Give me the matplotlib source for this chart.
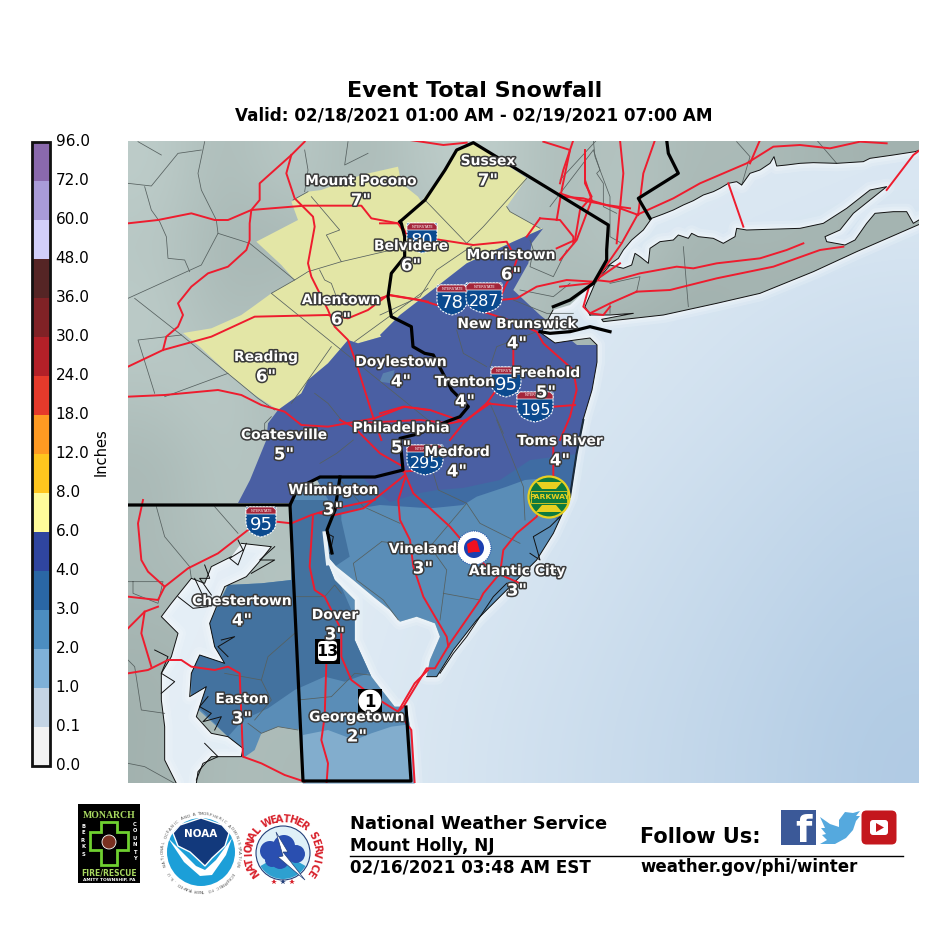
import numpy as np
import matplotlib
matplotlib.use("Agg")
import matplotlib.pyplot as plt
import matplotlib.patheffects as pe
from matplotlib.colors import ListedColormap, BoundaryNorm, LinearSegmentedColormap
from matplotlib.cm import ScalarMappable
from matplotlib.path import Path
from matplotlib.patches import PathPatch, Polygon, Circle, Rectangle, FancyBboxPatch, Wedge
from matplotlib.transforms import ScaledTranslation

# ---------- data ----------
levels = [0.0, 0.1, 1.0, 2.0, 3.0, 4.0, 6.0, 8.0, 12.0, 18.0, 24.0, 30.0, 36.0, 48.0, 60.0, 72.0, 96.0]
level_colors = ['#f2f2f2', '#c4d4e4', '#7fb1d8', '#4c8dc0', '#2a67a5', '#2f459f', '#fffb9a', '#ffc61e',
                '#ff9a22', '#e63a2b', '#b32028', '#802226', '#552525', '#d2cffa', '#a99bd8', '#8a69ad']
places = ['Sussex', 'Mount Pocono', 'Belvidere', 'Morristown', 'Allentown', 'New Brunswick', 'Doylestown', 'Reading',
          'Trenton', 'Freehold', 'Coatesville', 'Philadelphia', 'Medford', 'Toms River', 'Wilmington', 'Vineland',
          'Atlantic City', 'Chestertown', 'Dover', 'Easton', 'Georgetown']
snow_in = [7, 7, 6, 6, 6, 4, 4, 6, 4, 5, 5, 5, 4, 4, 3, 3, 3, 4, 3, 3, 2]
place_xy = [(488, 161), (361, 181), (411, 246), (511, 255), (341, 300), (517, 324), (401, 362), (266, 357),
            (465, 382), (546, 373), (284, 435), (401, 428), (457, 452), (560, 441), (333, 490), (423, 549),
            (517, 571), (242, 601), (335, 615), (242, 699), (357, 717)]
interstates = ['80', '78', '287', '95', '195', '295', '95']
interstate_xy = [(422, 238), (452, 300), (484, 298), (506, 382), (535, 407), (425, 460), (261, 522)]

def z4(p): return [(128 + x / 3, 500 + y / 3) for x, y in p]
def z5(p): return [(128 + x / 3, 140 + y / 3) for x, y in p]
def z6(p): return [(560 + x / 3, 140 + y / 3) for x, y in p]
def z7(p): return [(320 + x / 3, 420 + y / 3) for x, y in p]
def z3(p): return [(380 + x / 3, 200 + y / 3) for x, y in p]
def z8(p): return [(400 + x / 3, 140 + y / 3) for x, y in p]

ct_coast = z6([(1080, 30), (1065, 35), (1000, 45), (930, 55), (910, 65), (830, 70), (760, 68), (720, 70), (680, 75),
               (650, 78), (642, 50), (630, 70), (600, 90), (570, 100), (545, 135), (530, 125), (505, 130), (480, 145),
               (460, 155), (430, 165), (400, 182), (370, 195), (340, 210), (310, 222), (275, 235), (250, 270),
               (215, 300), (190, 330), (175, 355), (140, 380), (105, 425)])
nj_upper = [(589, 287), (570, 305), (553, 310), (545, 325), (541, 333), (555, 343), (575, 340), (590, 338), (597, 345),
            (597, 362), (592, 390), (583, 420)]
nj_coast = z7([(790, 0), (770, 100), (750, 230), (700, 340), (650, 420), (600, 470), (540, 530), (470, 600), (400, 690),
               (350, 770), (320, 770)])
nj_bay = z7([(330, 720), (360, 650), (345, 610), (290, 590), (240, 605), (210, 570), (160, 530), (100, 480), (50, 440),
             (15, 400), (10, 370)])
de_coast = z4([(590, 120), (600, 190), (620, 240), (680, 300), (680, 420), (730, 530), (800, 620), (835, 620), (850, 700),
               (860, 850)])
md_east = z4([(205, 850), (210, 815), (250, 770), (340, 770), (345, 745), (300, 710), (250, 700), (205, 650), (235, 560),
              (185, 590), (190, 520), (215, 465), (290, 490), (260, 440), (245, 370), (290, 260), (355, 230), (390, 190),
              (430, 140), (340, 130)])
md_west = z4([(310, 170), (250, 200), (230, 250), (190, 235), (130, 310), (100, 350), (150, 400), (130, 470), (100, 520),
              (100, 600), (110, 680), (110, 780), (145, 850)])
li_outline = z6([(90, 525), (75, 500), (105, 430), (150, 375), (190, 385), (215, 375), (225, 340), (240, 350), (265, 370),
                 (270, 325), (300, 305), (340, 300), (355, 285), (385, 295), (395, 280), (415, 290), (460, 295), (490, 310),
                 (525, 290), (530, 265), (560, 270), (720, 265), (790, 250), (860, 205), (930, 150), (980, 140), (930, 180),
                 (880, 220), (840, 270), (795, 290), (800, 305), (855, 315), (885, 300), (920, 250), (945, 220), (1000, 215),
                 (1040, 215), (1060, 250), (1085, 235), (1085, 250), (890, 335), (760, 395), (600, 460), (470, 490),
                 (310, 525), (130, 545), (125, 538), (220, 520), (150, 525)])

snow_yellow = [(183, 333)] + z5([(250, 565), (340, 525), (375, 500), (430, 460), (500, 420), (460, 375), (385, 305), (510, 240),
                                 (490, 185), (540, 155), (580, 150), (700, 105), (810, 80), (820, 130), (870, 170), (880, 185)]) + \
              z8([(135, 90), (170, 30), (220, 8), (380, 115), (320, 200), (330, 215), (420, 265)]) + \
              z3([(490, 85), (400, 125), (260, 190), (170, 260), (60, 345), (0, 405)]) + \
              z5([(760, 590), (690, 610), (660, 600), (600, 670), (540, 720), (520, 760), (450, 810), (380, 765), (300, 700), (215, 620)])
snow_dark = z3([(490, 85), (400, 125), (260, 190), (170, 260), (60, 345), (0, 405)]) + \
            z5([(760, 590), (690, 610), (660, 600), (600, 670), (540, 720), (520, 760), (450, 810), (420, 850), (415, 900)]) + \
            [(250, 480), (238, 503), (290, 503), (296, 488), (320, 476), (363, 478), (377, 492), (390, 502), (420, 493),
             (437, 490), (463, 488), (500, 480), (530, 460), (585, 453), (620, 400), (615, 345), (577, 345), (540, 315)] + \
            z3([(400, 270), (445, 190), (455, 130)])
snow_34_nj = z7([(-20, 160), (50, 285), (120, 265), (180, 255), (330, 265), (430, 255), (470, 230), (560, 200), (615, 180),
                 (670, 175), (800, 90), (850, 0), (-20, 0)])
snow_34_strip = z7([(640, 115), (830, 90), (830, 200), (720, 300), (680, 285), (735, 200), (700, 175), (630, 170)])
snow_34_md = z4([(190, 490), (240, 380), (300, 255), (400, 250), (490, 240), (490, 0), (640, 0), (640, 60), (665, 170), (620, 200),
                 (640, 260), (700, 400), (760, 560), (720, 520), (650, 545), (590, 530), (500, 570), (420, 625), (345, 660),
                 (300, 710), (190, 600)])
snow_23 = z4([(185, 490), (240, 370), (300, 255), (400, 250), (490, 240), (490, -30)]) + [(700, 470), (700, 800), (415, 800)] + \
          z4([(860, 870), (525, 870), (520, 690), (450, 680), (400, 700), (380, 750), (345, 775), (300, 710), (190, 610)])
snow_12 = z4([(525, 705), (600, 690), (680, 720), (730, 700), (790, 680), (870, 670), (870, 860), (525, 860)])
snow_spot = z5([(755, 725), (765, 700), (800, 690), (790, 730)])

state_lines = [
    [(128, 505), (290, 505), (303, 781), (411, 781), (406, 707)],
    z6([(320, 0), (325, 40), (355, 100), (235, 175), (270, 235)]),
    z8([(0, 245), (75, 180), (135, 90), (170, 30), (220, 8), (625, 255), (620, 330)]) + z3([(680, 180), (640, 250), (570, 300), (520, 320)]),
    z8([(0, 245)]) + z5([(820, 250), (830, 290), (830, 350), (790, 400), (780, 470), (790, 530), (850, 560), (855, 620), (890, 640)]) +
    z3([(160, 465), (215, 570), (265, 620), (240, 650), (200, 665), (120, 700), (60, 715)]) + [(403, 470), (375, 477), (340, 477), (320, 477), (298, 488), (290, 505)],
    [(340, 477), (335, 510), (327, 530), (332, 553)],
    z3([(480, 395), (510, 400), (570, 395), (630, 380), (690, 395)]),
]
roads = [
    z5([(0, 250), (90, 240), (190, 220), (260, 240), (300, 240), (370, 210), (430, 205), (530, 197), (700, 197), (730, 235), (810, 250), (830, 280)]),
    z3([(0, 70), (60, 70), (85, 110), (170, 118), (280, 135), (380, 125), (410, 180), (400, 210), (375, 260), (360, 295)]),
    z5([(530, 5), (490, 45), (395, 130), (395, 180), (370, 210), (365, 250), (365, 300), (355, 330), (300, 380), (240, 400), (190, 440), (150, 490), (165, 525), (150, 560), (115, 590), (105, 630)]),
    z5([(490, 45), (475, 100), (500, 175), (555, 230), (560, 260), (540, 370), (550, 410), (600, 510), (620, 560), (660, 600), (685, 670), (735, 830), (760, 900)]),
    z5([(0, 680), (105, 630), (250, 590), (380, 530), (600, 525), (660, 535), (720, 510), (780, 465), (900, 485)]),
    z5([(0, 770), (110, 765), (270, 750), (340, 765), (400, 795), (470, 815), (520, 855), (600, 860), (740, 835), (830, 800), (900, 810)]),
    z3([(0, 295), (30, 285), (120, 300), (170, 315)]),
    z3([(360, 300), (410, 295), (470, 260), (560, 240), (640, 245), (720, 190)]),
    z3([(310, 335), (400, 365), (470, 395), (490, 430), (580, 510), (590, 570), (570, 650), (540, 720)]),
    z3([(400, 440), (400, 500), (320, 610), (250, 670), (210, 720)]),
    z3([(320, 610), (410, 620), (520, 620), (585, 615)]),
    z3([(0, 640), (70, 620), (150, 630), (250, 665), (330, 610)]),
    z7([(250, 150), (280, 220), (330, 265), (390, 320), (450, 390), (500, 440), (555, 470), (600, 490)]),
    z7([(700, 50), (700, 170), (650, 290), (590, 340), (550, 390), (540, 460), (490, 520), (480, 540), (390, 670), (345, 745), (320, 745), (250, 860), (240, 870)]),
    z7([(255, 175), (235, 240), (240, 300), (270, 360), (280, 440), (310, 530), (380, 650), (385, 680)]),
    z7([(255, 165), (130, 265), (45, 285), (0, 280)]),
    z7([(250, 140), (180, 100), (130, 50), (100, 20), (60, 0)]),
    z7([(250, 155), (300, 150)]),
    z7([(440, 0), (390, 10), (300, 0), (100, 10)]),
    z4([(0, 520), (60, 510), (120, 480), (160, 480), (190, 500), (260, 510), (300, 500), (335, 520), (345, 770), (400, 790), (470, 825), (530, 845)]),
    z4([(0, 290), (90, 300), (110, 260), (180, 205), (270, 160), (360, 90)]),
    z4([(45, 0), (30, 70), (40, 180), (60, 215), (110, 260)]),
    z4([(445, 65), (490, 70), (550, 45), (600, 30), (740, 0)]),
    z4([(555, 45), (545, 200), (560, 270), (590, 290), (640, 390), (640, 470), (670, 540), (730, 585), (810, 635), (850, 690), (860, 850)]),
    z4([(595, 490), (590, 650), (580, 720), (600, 790), (595, 860)]),
    z4([(0, 385), (50, 335), (90, 320)]),
    z4([(50, 335), (40, 400), (70, 500)]),
    z4([(900, 510), (860, 550), (810, 635)]),
    z6([(285, 0), (250, 100), (235, 220), (185, 310), (105, 425), (90, 430), (0, 440)]),
    z6([(0, 160), (60, 180), (115, 190), (180, 205), (235, 225)]),
    z6([(180, 0), (190, 100), (180, 205), (170, 310)]),
    z6([(75, 30), (75, 120), (95, 180), (50, 300), (0, 360)]),
    z6([(40, 0), (10, 90), (0, 130)]),
    z6([(230, 225), (340, 175), (420, 130), (490, 100), (560, 70), (640, 20), (720, 15), (810, 25), (900, 5), (980, 10)]),
    z6([(600, 0), (570, 70)]),
    z6([(105, 420), (150, 425), (240, 400), (350, 380), (400, 385), (470, 370), (600, 355), (680, 330), (730, 310)]),
    z6([(230, 455), (330, 450), (470, 415), (640, 380), (780, 330), (850, 320)]),
    z6([(90, 520), (150, 490), (230, 455)]),
    z6([(90, 430), (70, 500), (90, 520), (130, 525), (150, 500)]),
    z6([(505, 130), (550, 260)]),
    z6([(980, 150), (1060, 45), (1080, 30)]),
    z8([(30, 0), (130, 15), (200, 8)]),
    z8([(430, 5), (510, 30), (485, 150), (470, 240)]),
    z8([(555, 35), (555, 130), (575, 170), (540, 210), (525, 300), (470, 325)]),
    z8([(420, 235), (480, 240), (520, 290), (520, 310)]),
    z8([(380, 290), (420, 235)]),
    z8([(490, 170), (550, 175), (620, 195), (690, 205)]),
]
counties = [
    z5([(0, 475), (220, 375), (270, 280), (265, 240), (220, 150), (210, 100), (230, 5)]),
    z5([(270, 280), (365, 310), (500, 420), (430, 460), (640, 630), (900, 840)]),
    z5([(20, 475), (160, 585), (390, 775), (440, 810)]),
    z5([(0, 130), (70, 138), (150, 40), (220, 30)]),
    z5([(50, 140), (70, 210), (95, 245), (115, 290), (120, 355), (170, 360), (185, 395)]),
    z5([(30, 5), (100, 45)]),
    z5([(160, 585), (30, 600), (80, 760)]),
    z5([(300, 700), (110, 770)]),
    z5([(500, 420), (540, 395), (640, 365), (790, 330)]),
    z5([(550, 170), (635, 270), (595, 285), (640, 365)]),
    z5([(495, 180), (540, 155)]),
    z5([(680, 605), (790, 525), (900, 445)]),
    z5([(610, 620), (540, 720), (490, 790)]),
    z5([(430, 830), (410, 850), (410, 900)]),
    z5([(575, 390), (590, 420), (610, 430), (625, 470)]),
    z5([(530, 30), (540, 90), (530, 155)]),
    z5([(660, 5), (650, 75), (720, 40)]),
    z5([(560, 760), (600, 790), (640, 840)]),
    z8([(75, 180), (200, 310), (250, 260), (380, 115)]),
    z8([(320, 200), (330, 215), (420, 265)]),
    z8([(450, 200), (580, 30)]),
    z8([(580, 30), (600, 90), (590, 100), (610, 130), (610, 200), (650, 220)]),
    z3([(0, 345), (120, 290), (170, 210), (280, 135)]),
    z3([(230, 390), (250, 460), (320, 500)]),
    z3([(400, 300), (500, 340), (580, 340)]),
    z3([(330, 500), (350, 440), (470, 395)]),
    z3([(330, 610), (370, 700)]),
    z3([(450, 120), (460, 150), (450, 200), (520, 230), (560, 150)]),
    z3([(420, 270), (520, 290), (570, 250)]),
    z7([(530, 0), (610, 200), (615, 300)]),
    z7([(440, 250), (330, 380)]),
    z7([(340, 160), (355, 210), (440, 250), (480, 310), (600, 370)]),
    z7([(185, 365), (100, 430), (110, 480), (190, 540), (235, 600)]),
    z7([(185, 365), (330, 380), (380, 450), (360, 600)]),
    z7([(370, 520), (480, 540)]),
    z7([(60, 180), (130, 260), (240, 310)]),
    z7([(100, 60), (50, 100), (0, 130)]),
    z4([(85, 20), (110, 110), (185, 200), (190, 235)]),
    z4([(260, 20), (330, 100)]),
    z4([(500, 290), (590, 290), (620, 255), (640, 280)]),
    z4([(500, 400), (420, 470), (400, 540), (430, 600), (380, 660)]),
    z4([(290, 520), (400, 540)]),
    z4([(510, 600), (610, 590), (680, 520), (725, 525)]),
    z4([(360, 670), (400, 700), (450, 680), (510, 690)]),
    z4([(0, 245), (105, 245), (90, 310), (15, 280), (15, 245)]),
    z4([(0, 480), (20, 500), (40, 630), (110, 640)]),
    z4([(0, 790), (50, 800), (140, 850)]),
    z6([(100, 0), (105, 50), (150, 170), (150, 290), (185, 310)]),
    z6([(110, 0), (0, 120)]),
    z6([(370, 320), (385, 500)]),
    z6([(530, 5), (570, 50), (545, 135)]),
    z6([(770, 0), (830, 70)]),
    z6([(150, 430), (240, 410), (230, 455), (150, 490), (150, 520)]),
]
inlets = [
    z4([(230, 195), (245, 235), (215, 235), (250, 285)]), z4([(200, 235), (240, 320), (195, 325), (150, 290)]),
    z4([(330, 120), (345, 150), (305, 175), (330, 195), (355, 130)]), z4([(440, 140), (395, 180), (440, 180), (370, 220)]),
    z4([(280, 420), (320, 410), (270, 440), (300, 470)]), z4([(240, 590), (215, 620), (250, 640), (225, 665), (280, 650), (260, 690)]),
    z4([(230, 730), (270, 770), (225, 790), (205, 840)]), z4([(80, 450), (120, 470), (100, 520), (140, 545), (100, 580)]),
    z7([(360, 760), (400, 700), (440, 650), (480, 590), (520, 530), (560, 490)]), z7([(630, 400), (660, 420), (640, 350), (690, 320), (720, 290)]),
    z7([(20, 340), (40, 350), (30, 400)]),
]
# hillshade tones typed on a coarse grid over the map frame (0 dark, 1 light)
terrain = [
    [.72, .42, .72, .38, .66, .78, .45, .60, .42, .45, .35, .30],
    [.62, .38, .30, .70, .38, .72, .42, .68, .32, .35, .35, .35],
    [.72, .42, .66, .34, .66, .60, .40, .30, .28, .35, .30, .30],
    [.58, .72, .34, .62, .38, .55, .48, .28, .28, .25, .25, .28],
    [.40, .62, .52, .72, .50, .50, .58, .42, .42, .42, .42, .42],
    [.42, .64, .48, .50, .58, .62, .60, .60, .60, .60, .60, .60],
    [.40, .42, .66, .60, .55, .60, .60, .60, .60, .60, .60, .60],
    [.30, .40, .50, .50, .52, .50, .60, .60, .60, .60, .60, .60],
    [.30, .48, .42, .42, .42, .50, .60, .60, .60, .60, .60, .60],
]
# sea tones on a coarse grid (0 deep, 1 pale)
sea = [
    [.90, .90, .90, .88, .86, .80, .78, .76, .74],
    [.92, .90, .88, .85, .80, .74, .68, .62, .56],
    [.92, .90, .88, .82, .75, .68, .60, .50, .42],
    [.92, .90, .85, .78, .70, .60, .48, .38, .28],
    [.92, .88, .82, .74, .64, .52, .40, .28, .16],
    [.90, .86, .80, .70, .58, .46, .34, .20, .05],
]

# ---------- figure ----------
plt.rcParams['font.family'] = ['DejaVu Sans']
fig = plt.figure(figsize=(9.43, 9.43), dpi=100, facecolor='white')
ax = fig.add_axes([0, 0, 1, 1])
ax.set_xlim(0, 943)
ax.set_ylim(943, 0)
ax.axis('off')
F = (128, 919, 783, 141)
frame = Rectangle((128, 141), 791, 642, transform=ax.transData)

sea_cmap = LinearSegmentedColormap.from_list('sea', ['#aec9e3', '#eaf2f8'])
ax.imshow(sea, cmap=sea_cmap, vmin=0, vmax=1, extent=F, interpolation='bicubic', aspect='auto', zorder=1)

land_main = ct_coast + [(595, 283)] + nj_upper + nj_coast + nj_bay + de_coast + md_east + md_west + [(128, 783), (128, 141), (919, 141)]
def closed(pts):
    a = np.array(pts + [pts[0]], float)
    c = [Path.MOVETO] + [Path.LINETO] * (len(pts) - 1) + [Path.CLOSEPOLY]
    return Path(a, c)
land_path = Path.make_compound_path(closed(land_main), closed(li_outline))

for lw, a in [(16, .2), (10, .25), (5, .35)]:
    g = PathPatch(land_path, fc='none', ec='#f6fafc', lw=lw * .72, alpha=a, zorder=2, joinstyle='round')
    ax.add_patch(g)
    g.set_clip_path(frame)

land_patch = PathPatch(land_path, fc='none', ec='none', transform=ax.transData, zorder=3)
ax.add_patch(land_patch)
land_cmap = LinearSegmentedColormap.from_list('land', ['#8f9f9c', '#d0dfdc'])
im = ax.imshow(terrain, cmap=land_cmap, vmin=0, vmax=1, extent=F, interpolation='bicubic', aspect='auto', zorder=3)
im.set_clip_path(land_patch)

for pts, col, zo in [(snow_23, '#5a8db7', 4.0), (snow_12, '#82adcd', 4.1), (snow_34_md, '#43729f', 4.2),
                     (snow_34_nj, '#3f6ca3', 4.3), (snow_34_strip, '#3f6ca3', 4.3), (snow_yellow, '#e3e6a6', 4.4),
                     (snow_dark, '#4a5fa3', 4.5), (snow_spot, '#5a80ad', 4.6)]:
    p = Polygon(pts, closed=True, fc=col, ec='none', zorder=zo)
    ax.add_patch(p)
    p.set_clip_path(land_patch)

def polyline(pts, **kw):
    a = np.array(pts, float)
    l, = ax.plot(a[:, 0], a[:, 1], solid_joinstyle='round', **kw)
    l.set_clip_path(frame)

for c in counties:
    polyline(c, color='#56605f', lw=0.55, zorder=5)
polyline(z4([(590, 100), (600, 190)]), color='#e8f0f5', lw=3, zorder=5)
for c in [ct_coast, li_outline + li_outline[:1], nj_upper[2:], nj_coast, md_east, md_west] + inlets:
    polyline(c, color='#111111', lw=0.7, zorder=5.5)
polyline(z7([(790, 0), (770, 100), (750, 230)]), color='#1a2a3a', lw=1.5, zorder=5.5)
for c in roads:
    polyline(c, color='#ee1c2e', lw=1.4, zorder=6)
for c in state_lines:
    polyline(c, color='#000000', lw=2.3, zorder=7)

# shields
def interstate(x, y, num):
    w = 15 if len(num) == 2 else 18
    h = 15
    sx = np.array([-1, 1, 1, .93, .7, .35, 0, -.35, -.7, -.93, -1]) * w + x
    sy = np.array([-h, -h, 1, 6, 10.5, 13.5, h, 13.5, 10.5, 6, 1]) + y
    ax.add_patch(Polygon(list(zip(sx, sy)), closed=True, fc='#0b4a8f', ec='white', lw=0.8, ls=(0, (2, 1)), zorder=8))
    ax.add_patch(Polygon([(x - w, y - h + 3), (x - w + 3, y - h), (x + w - 3, y - h), (x + w, y - h + 3), (x + w, y - h + 7), (x - w, y - h + 7)],
                         closed=True, fc='#a4253a', ec='white', lw=0.5, zorder=8.1))
    ax.text(x, y - h + 3.5, 'INTERSTATE', color='white', fontsize=2.6, ha='center', va='center', zorder=8.2)
    ax.text(x, y + 3.5, num, color='white', fontsize=13 if len(num) == 2 else 11.5, ha='center', va='center', zorder=8.2)

for n, (sx_, sy_) in zip(interstates, interstate_xy):
    interstate(sx_, sy_, n)

ax.add_patch(Rectangle((315, 639), 25, 25, fc='black', zorder=8))
ax.add_patch(FancyBboxPatch((319, 642), 17, 18, boxstyle='round,pad=1,rounding_size=4', fc='white', ec='none', zorder=8.1))
ax.text(327.5, 652, '13', fontsize=11.5, fontweight='bold', ha='center', va='center', color='black', zorder=8.2)
ax.add_patch(Rectangle((358, 689), 24, 24, fc='black', zorder=8))
ax.add_patch(Circle((370, 701), 11.5, fc='white', ec='none', zorder=8.1))
ax.text(370, 702, '1', fontsize=12, fontweight='bold', ha='center', va='center', color='black', zorder=8.2)

ax.add_patch(Circle((549, 497), 20.5, fc='#0d7a3e', ec='#e8d020', lw=1.6, zorder=8))
ax.add_patch(Polygon([(531, 491), (567, 491), (567, 503), (531, 503)], fc='#0d7a3e', ec='#e8d020', lw=0.6, zorder=8.1))
ax.add_patch(Polygon([(536, 482), (562, 482), (556, 489), (542, 489)], fc='#e8d020', zorder=8.1))
ax.add_patch(Polygon([(542, 505), (556, 505), (562, 512), (536, 512)], fc='#e8d020', zorder=8.1))
ax.text(549, 497, 'PARKWAY', color='#e8d020', fontsize=5.4, fontweight='bold', ha='center', va='center', zorder=8.2)

ax.add_patch(Circle((474, 548), 17, fc='white', ec='#1c4fa8', lw=0.8, ls=(0, (1, 1)), zorder=8))
ax.add_patch(Circle((474, 548), 10, fc='#1c3fb0', ec='none', zorder=8.1))
ax.add_patch(Polygon([(467, 544), (474, 540), (477, 541), (480, 552), (474, 552), (468, 553)], fc='#f01020', zorder=8.2))

# labels
halo = [pe.withStroke(linewidth=2.2, foreground='#3a3a3a')]
for name, val, (lx, ly) in zip(places, snow_in, place_xy):
    ax.text(lx, ly, name, color='white', fontsize=10, fontweight='bold', ha='center', va='center', zorder=9, path_effects=halo)
    ax.text(lx, ly + 19.5, f'{val}"', color='white', fontsize=12, fontweight='bold', ha='center', va='center', zorder=9, path_effects=halo)

ax.text(475, 91, 'Event Total Snowfall', fontsize=16, fontweight='bold', ha='center', va='center')
ax.text(474, 115.5, 'Valid: 02/18/2021 01:00 AM - 02/19/2021 07:00 AM', fontsize=12.05, fontweight='bold', ha='center', va='center')
ax.text(101, 452, 'Inches', fontsize=10.5, rotation=90, ha='center', va='center')

# colour bar
cax = fig.add_axes([31.5 / 943, 1 - 766 / 943, 18.5 / 943, 624 / 943])
norm = BoundaryNorm(levels, len(level_colors))
cb = fig.colorbar(ScalarMappable(norm=norm, cmap=ListedColormap(level_colors)), cax=cax, spacing='uniform', ticks=levels)
cb.ax.set_yticklabels([f'{v:.1f}' for v in levels], fontsize=11)
cb.ax.tick_params(length=0, pad=4)
shift = ScaledTranslation(0, 2 / 100, fig.dpi_scale_trans)
for t in cb.ax.get_yticklabels():
    t.set_transform(t.get_transform() + shift)
cb.outline.set_linewidth(2)
cb.outline.set_edgecolor('#111111')

# footer
ax.text(350, 824, 'National Weather Service', fontsize=12.9, fontweight='bold', ha='left', va='center')
ax.text(350, 846, 'Mount Holly, NJ', fontsize=12.05, fontweight='bold', ha='left', va='center')
ax.text(350, 867, '02/16/2021 03:48 AM EST', fontsize=12.05, fontweight='bold', ha='left', va='center')
ax.text(640, 837, 'Follow Us:', fontsize=15, fontweight='bold', ha='left', va='center')
ax.text(640, 867, 'weather.gov/phi/winter', fontsize=12, fontweight='bold', ha='left', va='center')
ax.plot([350, 903], [856, 856], color='black', lw=1)

# logos
ax.add_patch(Rectangle((78, 804), 62, 79, fc='black'))
ax.text(109, 815, 'MONARCH', color='#a8d860', fontsize=7, fontweight='bold', family='Liberation Serif', ha='center', va='center')
ax.add_patch(Polygon([(101, 822), (117, 822), (117, 832), (128, 832), (128, 850), (117, 850), (117, 865), (101, 865), (101, 850), (90, 850), (90, 832), (101, 832)],
                     fc='black', ec='#6fd030', lw=2))
ax.add_patch(Circle((109, 842), 7, fc='#7a3020', ec='white', lw=0.6))
ax.text(109, 873, 'FIRE/RESCUE', color='#a8d860', fontsize=5.5, fontweight='bold', ha='center', va='center')
ax.text(109, 880, 'AMITY TOWNSHIP, PA', color='white', fontsize=3.2, fontweight='bold', ha='center', va='center')
for i, ch in enumerate('BERKS'):
    ax.text(83, 826 + i * 7, ch, color='white', fontsize=3.8, fontweight='bold', ha='center', va='center')
for i, ch in enumerate('COUNTY'):
    ax.text(135, 824 + i * 7, ch, color='white', fontsize=3.8, fontweight='bold', ha='center', va='center')

def ring(text, cx, cy, r, a0, a1, **kw):
    for ch, a in zip(text, np.linspace(a0, a1, len(text))):
        t = np.deg2rad(a)
        ax.text(cx + r * np.cos(t), cy - r * np.sin(t), ch, rotation=a - 90, rotation_mode='anchor', ha='center', va='center', **kw)

ax.add_patch(Circle((201, 852), 34, fc='#1c9fd8', ec='none'))
ax.add_patch(Polygon([(173, 833), (180, 825), (201, 818), (222, 825), (229, 833), (225, 846), (212, 858), (205, 866), (190, 852), (178, 846)], fc='#12397c', ec='white', lw=1))
ax.add_patch(Polygon([(168, 838), (178, 848), (196, 866), (205, 870), (216, 860), (232, 838), (226, 855), (212, 875), (200, 876), (184, 862)], fc='white'))
ax.text(201, 834, 'NOAA', color='white', fontsize=7.5, fontweight='bold', ha='center', va='center')
ring('NATIONAL OCEANIC AND ATMOSPHERIC ADMINISTRATION', 201, 852, 38, 200, -20, fontsize=3, color='#555555')
ring('U.S. DEPARTMENT OF COMMERCE', 201, 852, 38, 215, 325, fontsize=3, color='#555555')

ax.add_patch(Circle((283, 853), 27, fc='#dff0f8', ec='#24407a', lw=0.8))
ax.add_patch(Wedge((283, 853), 26, 30, 150, fc='#2ea0d0', ec='none'))
for bx, by, br in [(270, 851, 10), (284, 846, 11), (296, 854, 9), (280, 860, 9), (272, 860, 7)]:
    ax.add_patch(Circle((bx, by), br, fc='#2a4fb0', ec='none'))
ax.add_patch(Polygon([(276, 832), (288, 852), (283, 852), (305, 880), (278, 857), (283, 856)], fc='white', ec='#24407a', lw=0.5))
ring('NATIONAL WEATHER SERVICE', 283, 853, 34, 215, -35, fontsize=7.2, fontweight='bold', color='#d8202a')
for sx_, col in [(274, '#d8202a'), (283, '#24407a'), (292, '#d8202a')]:
    ax.plot([sx_], [882], marker='*', color=col, ms=4, mew=0)

ax.add_patch(Rectangle((781, 810), 35, 35, fc='#3b5998'))
ax.text(803, 832, 'f', color='white', fontsize=27, fontweight='bold', ha='center', va='center')
ax.add_patch(Polygon([(820, 817), (830, 824), (839, 827), (839, 820), (845, 812), (853, 813), (860, 811), (856, 816), (860, 816), (856, 821),
                      (853, 830), (846, 838), (835, 844), (820, 844), (827, 840), (822, 835), (826, 834), (821, 828), (825, 828)], fc='#55a9de'))
ax.add_patch(FancyBboxPatch((864, 813), 30, 29, boxstyle='round,pad=2.5,rounding_size=5', fc='#c4171d', ec='none'))
ax.add_patch(FancyBboxPatch((871, 821), 16, 13, boxstyle='round,pad=1,rounding_size=3', fc='white', ec='none'))
ax.add_patch(Polygon([(876, 823), (884, 827.5), (876, 832)], fc='#c4171d'))

fig.savefig('out.png', dpi=100, facecolor='white')
